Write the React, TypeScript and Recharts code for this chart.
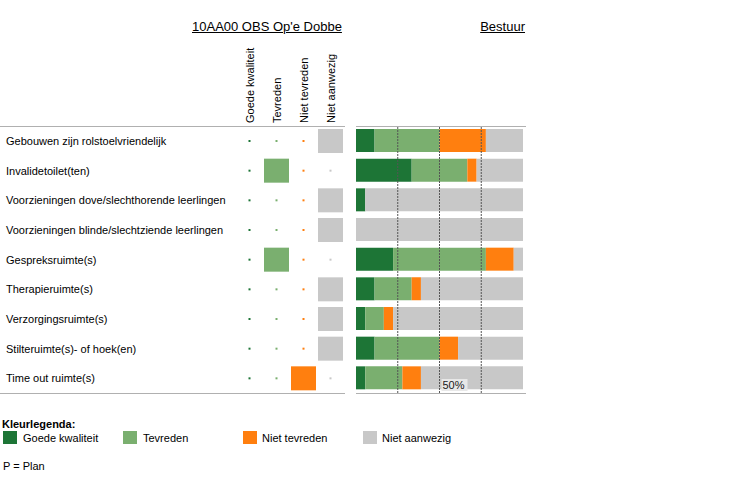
import React from "react";
import { BarChart, Bar, XAxis, YAxis, ReferenceLine } from "recharts";

const rowLabels = [
  "Gebouwen zijn rolstoelvriendelijk",
  "Invalidetoilet(ten)",
  "Voorzieningen dove/slechthorende leerlingen",
  "Voorzieningen blinde/slechtziende leerlingen",
  "Gespreksruimte(s)",
  "Therapieruimte(s)",
  "Verzorgingsruimte(s)",
  "Stilteruimte(s)- of hoek(en)",
  "Time out ruimte(s)",
];

const categories = ["Goede kwaliteit", "Tevreden", "Niet tevreden", "Niet aanwezig"];

// Bestuur (counts per category)
const goedeKwaliteit = [2, 6, 1, 0, 4, 2, 1, 2, 1];
const tevreden = [7, 6, 0, 0, 10, 4, 2, 7, 4];
const nietTevreden = [5, 1, 0, 0, 3, 1, 1, 2, 2];
const nietAanwezig = [4, 5, 17, 18, 1, 11, 14, 7, 11];

// School answer (index into categories)
const schoolAnswer = [3, 1, 3, 3, 1, 3, 3, 3, 2];

const gridTicks = [0.25, 0.5, 0.75];
const labelledTick = 0.5;

const colors = ["#1d7536", "#7aaf6f", "#ff7f0f", "#c8c8c8"];
const FONT = "'Liberation Sans', Arial, sans-serif";

const tableData = rowLabels.map((name, i) => ({
  name,
  c0: 1,
  c1: 1,
  c2: 1,
  c3: 1,
  answer: schoolAnswer[i],
}));

const barData = rowLabels.map((name, i) => ({
  name,
  g: goedeKwaliteit[i],
  t: tevreden[i],
  n: nietTevreden[i],
  a: nietAanwezig[i],
}));

const makeCellShape = (col: number) => (props: any) => {
  const { x, y, width, height, payload } = props;
  const cx = x + width / 2;
  const cy = y + height / 2;
  if (payload && payload.answer === col) {
    return <rect x={x + 1} y={y} width={width - 2} height={height} fill={colors[col]} />;
  }
  return <rect x={cx - 1} y={cy - 1} width={2} height={2} fill={colors[col]} />;
};

const ColumnTick = (props: any) => {
  const { x, y, payload } = props;
  const label = categories[Math.floor(payload.value)];
  const bx = x + 4;
  return (
    <text
      x={bx}
      y={y}
      transform={`rotate(-90, ${bx}, ${y})`}
      textAnchor="start"
      fontSize={11}
      fontFamily={FONT}
      fill="#000"
    >
      {label}
    </text>
  );
};

const RowTick = (props: any) => {
  const { y, payload } = props;
  return (
    <text x={6} y={y + 4} textAnchor="start" fontSize={11} fontFamily={FONT} fill="#000">
      {payload.value}
    </text>
  );
};

const FiftyLabel = (props: any) => {
  const vb = props.viewBox || {};
  const x = vb.x ?? 0;
  const bottom = (vb.y ?? 0) + (vb.height ?? 0);
  return (
    <g>
      <rect x={x + 2} y={bottom - 14} width={26} height={12} fill="#e8e8e8" />
      <text x={x + 3} y={bottom - 4} fontSize={11} fontFamily={FONT} fill="#1a1a1a">
        {`${labelledTick * 100}%`}
      </text>
    </g>
  );
};

const line = (left: number, top: number, width: number) => (
  <div
    style={{
      position: "absolute",
      left,
      top,
      width,
      height: 1,
      background: "#b0b0b0",
    }}
  />
);

const swatch = (left: number, color: string) => (
  <div style={{ position: "absolute", left, top: 431, width: 14, height: 13, background: color }} />
);

const legendText = (left: number, text: string) => (
  <div
    style={{
      position: "absolute",
      left,
      top: 431,
      fontSize: 11,
      lineHeight: "15px",
      fontFamily: FONT,
      whiteSpace: "nowrap",
    }}
  >
    {text}
  </div>
);

export default function App() {
  return (
    <div
      style={{
        position: "absolute",
        left: 0,
        top: 0,
        width: 747,
        height: 484,
        background: "#fff",
        fontFamily: FONT,
        overflow: "hidden",
      }}
    >
      <div
        style={{
          position: "absolute",
          left: 192,
          top: 19,
          fontSize: 13,
          lineHeight: "15px",
          textDecoration: "underline",
          whiteSpace: "nowrap",
        }}
      >
        10AA00 OBS Op'e Dobbe
      </div>
      <div
        style={{
          position: "absolute",
          right: 747 - 525,
          top: 19,
          fontSize: 13,
          lineHeight: "15px",
          textDecoration: "underline",
          whiteSpace: "nowrap",
        }}
      >
        Bestuur
      </div>

      <div style={{ position: "absolute", left: 0, top: 0 }}>
        <BarChart
          width={345}
          height={400}
          data={tableData}
          layout="vertical"
          margin={{ top: 0, right: 1, bottom: 7, left: 0 }}
          barSize={24}
        >
          <XAxis
            type="number"
            orientation="top"
            domain={[0, 4]}
            ticks={[0.5, 1.5, 2.5, 3.5]}
            height={126}
            axisLine={false}
            tickLine={false}
            tickSize={0}
            tickMargin={3}
            interval={0}
            tick={<ColumnTick />}
          />
          <YAxis
            type="category"
            dataKey="name"
            width={236}
            axisLine={false}
            tickLine={false}
            interval={0}
            tick={<RowTick />}
          />
          {categories.map((c, i) => (
            <Bar
              key={c}
              dataKey={`c${i}`}
              stackId="t"
              isAnimationActive={false}
              shape={makeCellShape(i)}
            />
          ))}
        </BarChart>
      </div>

      <div style={{ position: "absolute", left: 350, top: 0 }}>
        <BarChart
          width={180}
          height={400}
          data={barData}
          layout="vertical"
          stackOffset="expand"
          margin={{ top: 126, right: 7, bottom: 7, left: 6 }}
          barSize={23}
        >
          <XAxis type="number" domain={[0, 1]} hide />
          <YAxis type="category" dataKey="name" hide />
          <Bar dataKey="g" stackId="s" fill={colors[0]} isAnimationActive={false} />
          <Bar dataKey="t" stackId="s" fill={colors[1]} isAnimationActive={false} />
          <Bar dataKey="n" stackId="s" fill={colors[2]} isAnimationActive={false} />
          <Bar dataKey="a" stackId="s" fill={colors[3]} isAnimationActive={false} />
          {gridTicks.map((t) => (
            <ReferenceLine
              key={t}
              x={t}
              stroke="#555"
              strokeDasharray="2 1"
              label={t === labelledTick ? <FiftyLabel /> : undefined}
            />
          ))}
        </BarChart>
      </div>

      {line(0, 126, 345)}
      {line(0, 393, 345)}
      {line(356, 126, 170)}
      {line(356, 393, 170)}

      <div
        style={{
          position: "absolute",
          left: 2,
          top: 418,
          fontSize: 11,
          lineHeight: "13px",
          fontWeight: "bold",
          whiteSpace: "nowrap",
        }}
      >
        Kleurlegenda:
      </div>
      {swatch(3, colors[0])}
      {legendText(23, categories[0])}
      {swatch(123, colors[1])}
      {legendText(143, categories[1])}
      {swatch(243, colors[2])}
      {legendText(262, categories[2])}
      {swatch(363, colors[3])}
      {legendText(382, categories[3])}
      <div
        style={{
          position: "absolute",
          left: 3,
          top: 460,
          fontSize: 11,
          lineHeight: "13px",
          whiteSpace: "nowrap",
        }}
      >
        P = Plan
      </div>
    </div>
  );
}
